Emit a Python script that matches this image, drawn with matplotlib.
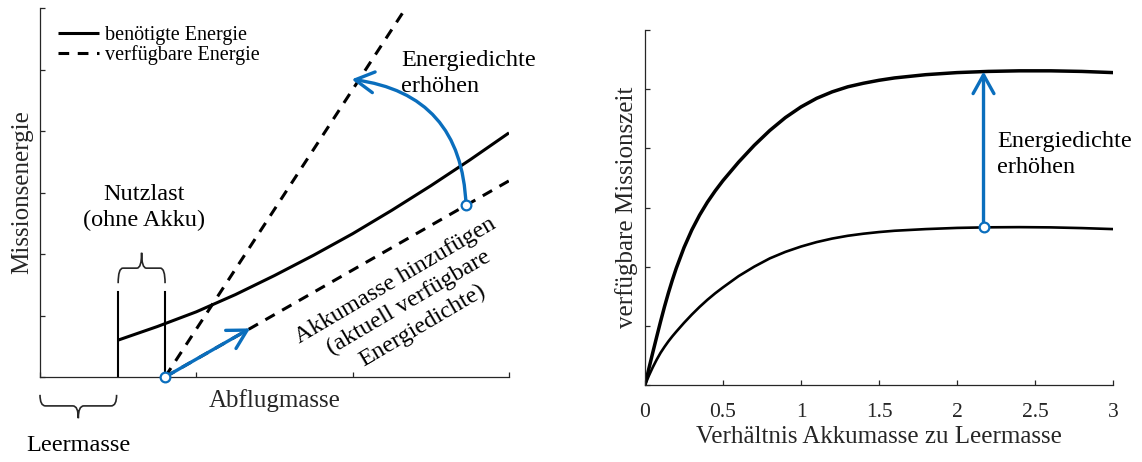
import matplotlib
matplotlib.use("Agg")
import matplotlib.pyplot as plt
from matplotlib.path import Path
from matplotlib.patches import PathPatch, ArrowStyle

plt.rcParams['font.family'] = ['Liberation Serif', 'DejaVu Serif']

# ---------------- data: left chart ----------------
leer_end = 0.5          # Leermasse (empty mass)
nutz_end = 0.8          # + Nutzlast (payload)
wall_height = 1.39

x_req = [0.5, 0.75, 1.0, 1.25, 1.5, 1.75, 2.0, 2.25, 2.5, 2.75, 3.0]
y_req = [0.60, 0.82, 1.06, 1.34, 1.65, 1.98, 2.33, 2.71, 3.11, 3.53, 3.97]

x_avail_high = [0.8, 2.34]
y_avail_high = [0.0, 6.0]
x_avail_cur = [0.8, 3.0]
y_avail_cur = [0.0, 3.19]

arrow_add_start = (0.8, 0.0)
arrow_add_end = (1.344, 0.79)
arrow_ed_start = (2.725, 2.80)
arrow_ed_end = (1.994, 4.84)

legend_labels = ['benötigte Energie', 'verfügbare Energie']

# ---------------- data: right chart ----------------
x_ratio = [0, 0.025, 0.05, 0.075, 0.1, 0.125, 0.15, 0.175, 0.2, 0.25, 0.3,
           0.35, 0.4, 0.45, 0.5, 0.6, 0.7, 0.8, 0.9, 1.0, 1.1, 1.2, 1.3,
           1.4, 1.5, 1.6, 1.8, 2.0, 2.2, 2.4, 2.6, 2.8, 3.0]
t_high = [0, 0.28, 0.55, 0.815, 1.075, 1.324, 1.556, 1.771, 1.97, 2.322,
          2.62, 2.872, 3.09, 3.281, 3.455, 3.767, 4.05, 4.302, 4.52, 4.70,
          4.845, 4.955, 5.04, 5.10, 5.15, 5.19, 5.245, 5.28, 5.30, 5.31,
          5.31, 5.30, 5.28]
t_low = [0, 0.158, 0.30, 0.429, 0.545, 0.645, 0.738, 0.822, 0.90, 1.05,
         1.19, 1.32, 1.44, 1.55, 1.65, 1.84, 2.0, 2.14, 2.25, 2.34, 2.415,
         2.475, 2.522, 2.557, 2.585, 2.607, 2.635, 2.655, 2.665, 2.668,
         2.664, 2.652, 2.635]
x_marker_r = 2.17
t_marker_low = 2.665
t_marker_high = 5.30
xticks_r = [0, 0.5, 1, 1.5, 2, 2.5, 3]
xticklabels_r = ['0', '0.5', '1', '1.5', '2', '2.5', '3']

BLUE = '#0A6EBD'
AXC = '#262626'

fig = plt.figure(figsize=(11.42, 4.62), dpi=100)
ax1 = fig.add_axes([40/1142, 1-377/462, 469/1142, 369/462])
ax2 = fig.add_axes([645/1142, 1-385/462, 468/1142, 355/462])

for ax in (ax1, ax2):
    ax.set_xlim(0, 3)
    ax.set_ylim(0, 6)
    for s in ('top', 'right'):
        ax.spines[s].set_visible(False)
    for s in ('left', 'bottom'):
        ax.spines[s].set_color(AXC)
        ax.spines[s].set_linewidth(0.9)
    ax.tick_params(direction='in', length=3.6, width=0.9, colors=AXC,
                   labelcolor=AXC)
    ax.set_yticks(range(7))
    ax.set_yticklabels([])

# ---------------- left chart ----------------
ax1.set_xticks([0, 1, 2, 3])
ax1.set_xticklabels([])

dash = (0, (3.5, 2.8))
l_req, = ax1.plot(x_req, y_req, color='black', lw=2.2, solid_capstyle='butt')
l_av, = ax1.plot(x_avail_cur, y_avail_cur, color='black', lw=2.2, ls=dash)
ax1.plot(x_avail_high, y_avail_high, color='black', lw=2.2, ls=dash)

ax1.plot([leer_end, leer_end], [0, wall_height], color='black', lw=1.5)
ax1.plot([nutz_end, nutz_end], [0, wall_height], color='black', lw=1.5)


def brace(ax, x0, x1, y_end, y_mid, y_tip, r):
    xm = (x0 + x1) / 2
    verts = [(x0, y_end), (x0, y_mid), (x0 + r, y_mid), (xm - r, y_mid),
             (xm, y_mid), (xm, y_tip), (xm, y_mid), (xm + r, y_mid),
             (x1 - r, y_mid), (x1, y_mid), (x1, y_end)]
    codes = [Path.MOVETO, Path.CURVE3, Path.CURVE3, Path.LINETO,
             Path.CURVE3, Path.CURVE3, Path.CURVE3, Path.CURVE3,
             Path.LINETO, Path.CURVE3, Path.CURVE3]
    p = PathPatch(Path(verts, codes), fill=False, edgecolor=AXC, lw=1.2,
                  clip_on=False)
    ax.add_patch(p)


brace(ax1, leer_end, nutz_end, 1.525, 1.77, 2.02, 0.03)
brace(ax1, 0.0, 0.49, -0.29, -0.47, -0.67, 0.035)

arrow_style = ArrowStyle('->', head_length=1.35, head_width=0.75)
ax1.annotate('', xy=arrow_add_end, xytext=arrow_add_start,
             arrowprops=dict(arrowstyle=arrow_style, color=BLUE, lw=2.4,
                             shrinkA=0, shrinkB=0, mutation_scale=10))
ax1.annotate('', xy=arrow_ed_end, xytext=arrow_ed_start,
             arrowprops=dict(arrowstyle=arrow_style, color=BLUE, lw=2.4,
                             shrinkA=0, shrinkB=0, mutation_scale=10,
                             connectionstyle='arc3,rad=0.42'))
ax1.plot([arrow_add_start[0], arrow_ed_start[0]],
         [arrow_add_start[1], arrow_ed_start[1]], 'o', ms=7, mfc='white',
         mec=BLUE, mew=1.6, zorder=6, clip_on=False, ls='none')

ax1.text(2.31, 4.94, 'Energiedichte\nerhöhen', fontsize=17.5, ha='left',
         va='center', linespacing=1.3)
ax1.text(0.665, 2.75, 'Nutzlast\n(ohne Akku)', fontsize=17.5, ha='center',
         va='center', multialignment='center', linespacing=1.3)
ax1.text(0.245, -1.21, 'Leermasse', fontsize=17.5, ha='center',
         va='baseline', color='black', clip_on=False)
ax1.text(2.36, 1.2, 'Akkumasse hinzufügen\n(aktuell verfügbare\nEnergiedichte)',
         fontsize=17.5, ha='center', va='center', multialignment='center',
         rotation=30.5, rotation_mode='anchor', linespacing=1.3)

ax1.set_xlabel('Abflugmasse', fontsize=18, color=AXC)
ax1.xaxis.set_label_coords(0.5, -0.065)
ax1.xaxis.label.set_va('center')
ax1.set_ylabel('Missionsenergie', fontsize=18, color=AXC)
ax1.yaxis.set_label_coords(-0.038, 0.5)
ax1.yaxis.label.set_va('center')

leg = ax1.legend([l_req, l_av], legend_labels, loc='upper left',
                 bbox_to_anchor=(0.038, 0.951), frameon=False, fontsize=14.5,
                 handlelength=2.05, handletextpad=0.3, labelspacing=0.0,
                 borderaxespad=0, borderpad=0)

# ---------------- right chart ----------------
ax2.plot(x_ratio, t_high, color='black', lw=2.5)
ax2.plot(x_ratio, t_low, color='black', lw=1.9)
ax2.annotate('', xy=(x_marker_r, t_marker_high),
             xytext=(x_marker_r, t_marker_low),
             arrowprops=dict(arrowstyle=arrow_style, color=BLUE, lw=2.4,
                             shrinkA=0, shrinkB=0, mutation_scale=10))
ax2.plot([x_marker_r], [t_marker_low], 'o', ms=7, mfc='white', mec=BLUE,
         mew=1.6, zorder=6, clip_on=False)
ax2.text(2.258, 3.89, 'Energiedichte\nerhöhen', fontsize=17.5, ha='left',
         va='center', linespacing=1.3)

ax2.set_xticks(xticks_r)
ax2.set_xticklabels(xticklabels_r, fontsize=15.5)
ax2.tick_params(axis='x', pad=13)
ax2.set_xlabel('Verhältnis Akkumasse zu Leermasse', fontsize=18, color=AXC)
ax2.xaxis.set_label_coords(0.5, -0.146)
ax2.xaxis.label.set_va('center')
ax2.set_ylabel('verfügbare Missionszeit', fontsize=18, color=AXC)
ax2.yaxis.set_label_coords(-0.0385, 0.5)
ax2.yaxis.label.set_va('center')

fig.savefig('out.png', dpi=100)
